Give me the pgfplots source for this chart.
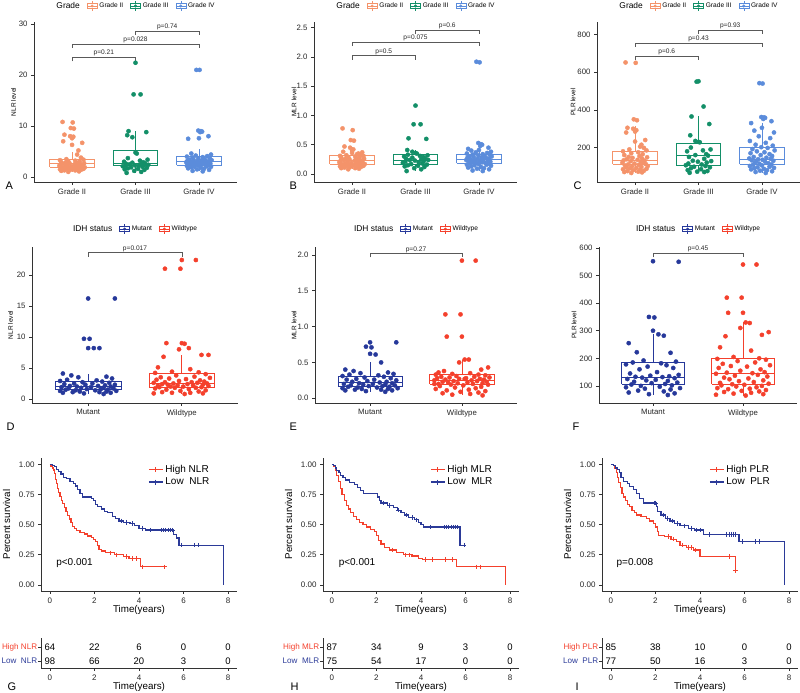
\documentclass[border=0pt]{standalone}
\usepackage{pgfplots}
\pgfplotsset{compat=1.18}
\usepackage{pgfplotstable}
\usepackage{fontspec}
\setmainfont{Liberation Sans}
\setsansfont{Liberation Sans}
\newcommand{\fs}[1]{\fontsize{#1bp}{#1bp}\selectfont}

\definecolor{gII}{HTML}{F4936A}
\definecolor{gIII}{HTML}{138F68}
\definecolor{gIV}{HTML}{5B8CDB}
\definecolor{mut}{HTML}{26389A}
\definecolor{wt}{HTML}{F4402C}
\definecolor{kmred}{HTML}{F4402C}
\definecolor{kmblue}{HTML}{2B3A98}

\tikzset{
  bracket/.style={line width=0.6bp, black!65},
  plab/.style={font=\fs{6.6}, anchor=south, inner sep=0.8bp, text=black!85},
}
\pgfplotsset{
  base/.style={scale only axis, clip=false,
    axis x line=bottom, axis y line=left,
    axis line style={-, line width=0.7bp, black!80},
    tick style={line width=0.7bp, black!80}, major tick length=3bp, tick align=outside,
    tick label style={font=\fs{7.8}, text=black!85},
    /pgf/number format/assume math mode=true,
    ylabel style={at={(rel axis cs:0,0.5)}, anchor=center, font=\fs{6.5}},
  },
  bxkey/.style={legend image code/.code={
    \draw[line width=0.6bp] (0bp,-2.6bp) rectangle (10bp,2.6bp);
    \draw[line width=0.6bp] (0bp,0bp) -- (10bp,0bp);
    \draw[line width=0.6bp] (5bp,2.6bp) -- (5bp,4.8bp);
    \draw[line width=0.6bp] (5bp,-2.6bp) -- (5bp,-4.8bp);
    \fill (5bp,0bp) circle (1.3bp);}},
  kmkey/.style={legend image code/.code={
    \draw[mark repeat=2,mark phase=2] plot coordinates {(0bp,0bp) (7bp,0bp) (14bp,0bp)};}},
  gpanel/.style={base, width=203bp, height=160bp, xmin=0.4, xmax=3.6,
    xtick={1,2,3}, xticklabels={Grade II,Grade III,Grade IV},
    legend style={at={(0.5,1.1)}, anchor=center, draw=none, fill=none, legend columns=-1,
      font=\fs{6.6}, inner sep=0pt, /tikz/every even column/.append style={column sep=5bp}},
    legend cell align=left},
  ipanel/.style={base, height=156bp, xmin=0.4, xmax=2.6,
    xtick={1,2}, xticklabels={Mutant,Wildtype},
    legend style={at={(0.5,1.115)}, anchor=center, draw=none, fill=none, legend columns=-1,
      font=\fs{6.6}, inner sep=0pt, /tikz/every even column/.append style={column sep=5bp}},
    legend cell align=left},
  kmpanel/.style={base, width=196bp, height=132.7bp, xmin=-0.4, xmax=8.4, ymin=-0.05, ymax=1.05,
    xtick={0,2,4,6,8}, ytick={0,0.25,0.5,0.75,1},
    yticklabel style={/pgf/number format/fixed, /pgf/number format/fixed zerofill, /pgf/number format/precision=2},
    tick label style={font=\fs{8}},
    ylabel={Percent survival}, ylabel style={font=\fs{9.8}, yshift=34.5bp},
    xlabel={Time(years)}, xlabel style={at={(rel axis cs:0.5,0)}, anchor=center, yshift=-19bp, font=\fs{9.8}},
    legend style={at={(0.546,0.965)}, anchor=north west, draw=none, fill=none, font=\fs{10},
      inner sep=0pt, row sep=0bp}, legend cell align=left},
  riskpanel/.style={base, width=196bp, height=30bp, xmin=-0.4, xmax=8.4, ymin=0.5, ymax=2.64,
    xtick={0,2,4,6,8}, ytick={1,2}, tick label style={font=\fs{8}},
    yticklabel style={font=\fs{8.1}, inner sep=0.6bp},
    xlabel={Time(years)}, xlabel style={at={(rel axis cs:0.5,0)}, anchor=center, yshift=-19bp, font=\fs{9.8}}},
  bxline/.style={line width=0.8bp, forget plot, unbounded coords=jump},
  pts/.style={only marks, mark=*, mark size=2.1bp, forget plot},
  kmline/.style={const plot, line width=1.2bp, forget plot},
  cens/.style={only marks, mark=+, mark size=2.3bp, line width=0.8bp, forget plot},
  risknum/.style={draw=none, nodes near coords, point meta=explicit symbolic, forget plot,
    every node near coord/.append style={anchor=center, font=\fs{9.5}, text=black}},
}

% ---------- jittered points: jit, NLR, MLR, PLR ----------
\pgfplotstableread{
jit nlr mlr plr
-0.15 10.8 0.78 652
0.01 10.7 0.75 650
-0.02 9.6 0.58 350
0.03 9.5 0.57 345
-0.12 8.3 0.47 305
-0.03 8.0 0.45 300
0.02 7.9 0.42 292
0.00 7.6 0.40 285
-0.14 7.0 0.38 280
0.16 6.7 0.37 240
0.00 6.3 0.36 232
0.10 5.2 0.35 215
0.08 4.4 0.34 205
0.14 3.8 0.33 198
-0.09 3.5 0.32 190
0.18 3.4 0.31 185
-0.19 3.3 0.31 180
0.05 3.2 0.30 175
-0.06 3.1 0.29 170
0.12 3.0 0.28 165
-0.17 2.9 0.28 160
0.07 2.8 0.27 155
-0.10 2.8 0.26 150
0.19 2.7 0.26 148
-0.04 2.7 0.25 145
0.11 2.6 0.24 142
-0.13 2.6 0.24 138
0.04 2.5 0.23 135
-0.18 2.5 0.23 132
0.15 2.4 0.22 130
-0.07 2.4 0.21 127
0.09 2.3 0.21 124
-0.20 2.2 0.20 120
0.13 2.2 0.20 118
-0.01 2.1 0.19 115
0.17 2.1 0.19 112
-0.11 2.0 0.18 110
0.06 2.0 0.18 108
-0.16 1.9 0.17 105
0.20 1.9 0.17 102
-0.05 1.8 0.16 100
0.10 1.8 0.16 97
-0.14 1.7 0.15 95
0.02 1.7 0.15 92
-0.08 1.6 0.14 90
0.18 1.6 0.14 87
-0.19 1.5 0.13 85
0.08 1.5 0.13 82
-0.03 1.4 0.12 80
0.14 1.4 0.12 77
-0.12 1.3 0.11 75
0.05 1.3 0.10 72
-0.17 1.2 0.10 70
0.11 1.1 0.09 68
-0.06 1.0 0.08 65
}\tabII

\pgfplotstableread{
jit nlr mlr plr
0.00 22.4 1.17 552
-0.03 16.2 0.85 550
0.08 16.2 0.85 418
-0.11 9.0 0.61 365
0.17 8.8 0.60 325
-0.13 8.2 0.41 265
-0.05 7.8 0.38 235
0.00 4.8 0.36 230
0.02 4.6 0.35 228
-0.12 3.7 0.33 200
0.19 3.4 0.32 190
0.07 3.2 0.31 185
-0.18 3.0 0.30 180
0.12 2.9 0.29 165
-0.05 2.8 0.28 160
0.15 2.7 0.27 157
-0.15 2.6 0.26 150
0.09 2.5 0.25 140
-0.09 2.5 0.24 130
0.20 2.4 0.24 128
-0.01 2.3 0.23 125
0.13 2.3 0.22 120
-0.16 2.2 0.21 115
0.05 2.2 0.20 110
-0.20 2.1 0.19 106
0.11 2.0 0.18 102
-0.07 1.9 0.17 98
0.18 1.8 0.16 95
-0.12 1.7 0.15 90
0.04 1.6 0.14 85
-0.17 1.5 0.13 80
0.14 1.4 0.12 75
-0.02 1.2 0.10 72
0.09 1.0 0.08 70
-0.14 0.8 0.05 66
}\tabIII

\pgfplotstableread{
jit nlr mlr plr
-0.04 21.0 1.92 542
0.01 21.0 1.91 540
-0.01 9.1 0.53 362
0.03 9.0 0.51 360
0.05 8.9 0.50 358
0.02 8.8 0.48 352
0.15 8.0 0.45 340
-0.17 7.5 0.43 330
0.00 7.6 0.41 305
-0.12 4.6 0.40 290
0.19 4.4 0.38 280
-0.05 4.2 0.37 260
0.13 4.1 0.36 250
-0.19 4.0 0.35 235
0.06 3.9 0.34 225
-0.10 3.8 0.33 215
0.17 3.7 0.33 210
-0.01 3.6 0.32 202
0.09 3.5 0.31 198
-0.15 3.4 0.30 192
0.20 3.3 0.30 185
-0.08 3.3 0.29 180
0.04 3.2 0.28 175
-0.18 3.2 0.28 170
0.12 3.1 0.27 165
-0.02 3.1 0.26 160
0.16 3.0 0.26 155
-0.13 3.0 0.25 150
0.07 2.9 0.25 146
-0.20 2.9 0.24 142
0.14 2.8 0.24 140
-0.06 2.8 0.23 138
0.01 2.7 0.22 135
-0.16 2.7 0.22 132
0.18 2.6 0.21 130
-0.09 2.6 0.21 127
0.05 2.5 0.20 124
-0.11 2.5 0.20 120
0.10 2.4 0.19 117
-0.04 2.4 0.19 114
0.15 2.3 0.18 110
-0.14 2.3 0.18 108
0.00 2.2 0.17 105
-0.19 2.2 0.16 102
0.12 2.1 0.16 98
-0.07 2.0 0.15 95
0.19 2.0 0.14 92
-0.12 1.9 0.13 90
0.03 1.8 0.12 87
-0.17 1.7 0.11 84
0.08 1.6 0.10 80
-0.03 1.5 0.09 77
0.16 1.4 0.08 74
-0.10 1.2 0.06 70
0.06 1.1 0.05 65
}\tabIV

\pgfplotstableread{
jit nlr mlr plr
0.00 16.2 0.78 552
0.19 16.2 0.78 550
-0.03 9.7 0.72 350
0.01 9.7 0.71 348
0.00 8.2 0.62 300
0.04 8.2 0.61 287
0.08 8.2 0.50 282
-0.18 4.1 0.40 255
-0.12 3.8 0.38 222
0.13 3.6 0.36 220
-0.07 3.5 0.35 192
0.17 3.3 0.34 188
-0.15 3.1 0.33 185
0.06 3.0 0.32 182
-0.20 2.9 0.31 178
0.10 2.8 0.30 175
-0.04 2.7 0.29 170
0.15 2.6 0.28 165
-0.10 2.5 0.27 160
0.03 2.5 0.26 150
-0.17 2.4 0.26 145
0.19 2.3 0.25 140
-0.02 2.3 0.24 137
0.12 2.2 0.23 135
-0.13 2.1 0.23 133
0.07 2.1 0.22 132
-0.08 2.0 0.21 130
0.16 2.0 0.21 128
-0.19 1.9 0.20 125
0.02 1.9 0.20 122
-0.05 1.8 0.19 120
0.11 1.8 0.19 118
-0.14 1.7 0.18 115
0.18 1.7 0.18 112
-0.01 1.6 0.17 110
0.09 1.6 0.17 107
-0.16 1.5 0.16 105
0.14 1.5 0.16 102
-0.09 1.4 0.15 100
0.05 1.4 0.15 97
-0.20 1.3 0.14 95
0.20 1.3 0.14 92
-0.06 1.2 0.13 90
0.13 1.2 0.13 87
-0.11 1.1 0.12 83
0.08 1.1 0.12 80
-0.18 1.0 0.11 76
0.16 1.0 0.11 73
-0.03 0.9 0.10 70
0.11 0.8 0.09 67
}\tabMut

\pgfplotstableread{
jit nlr mlr plr
0.00 22.4 1.92 540
0.10 22.4 1.92 540
-0.01 21.0 1.17 420
-0.12 21.0 1.17 420
-0.11 9.0 0.86 365
0.00 9.0 0.86 365
0.02 8.9 0.54 330
0.05 8.2 0.54 328
-0.02 8.0 0.50 310
0.19 7.1 0.43 295
0.14 7.1 0.40 285
-0.13 6.8 0.38 280
-0.17 5.1 0.36 240
0.06 4.8 0.35 228
-0.07 4.4 0.34 205
0.12 4.3 0.33 200
-0.19 4.2 0.33 198
0.17 4.0 0.32 195
-0.04 3.8 0.31 190
0.09 3.6 0.30 185
-0.15 3.5 0.30 180
0.20 3.4 0.29 175
-0.09 3.3 0.29 172
0.03 3.2 0.28 170
-0.18 3.1 0.28 165
0.13 3.0 0.27 160
-0.02 2.9 0.27 155
0.16 2.8 0.26 150
-0.12 2.7 0.26 148
0.07 2.7 0.25 146
-0.20 2.6 0.25 144
0.11 2.6 0.24 140
-0.06 2.5 0.24 137
0.18 2.5 0.23 134
-0.14 2.4 0.23 130
0.04 2.4 0.22 127
-0.10 2.3 0.22 124
0.15 2.3 0.21 120
-0.03 2.2 0.21 117
0.08 2.2 0.20 114
-0.17 2.1 0.20 111
0.19 2.1 0.19 108
-0.08 2.0 0.19 106
0.01 2.0 0.18 104
-0.16 1.9 0.17 102
0.14 1.9 0.16 100
-0.05 1.8 0.15 98
0.10 1.8 0.14 95
-0.19 1.7 0.13 92
0.05 1.6 0.12 90
-0.11 1.5 0.11 88
0.17 1.4 0.10 85
-0.01 1.3 0.09 82
0.12 1.2 0.08 80
-0.14 1.1 0.07 78
0.06 1.0 0.06 75
-0.07 1.0 0.05 72
0.15 0.9 0.04 70
-0.20 0.9 0.20 68
0.02 0.8 0.27 65
}\tabWt

\begin{document}
\begin{tikzpicture}[x=1bp,y=1bp]
\path[use as bounding box] (0bp,0bp) rectangle (800bp,693bp);

% ================= A =================
\begin{axis}[gpanel, at={(34bp,511bp)}, anchor=south west, ymin=-0.98, ymax=30.4, ytick={0,10,20,30},
  ylabel={NLR level}, ylabel style={yshift=20.5bp}]
\addplot[gII, bxline] coordinates {(0.65,1.9) (1.35,1.9) (1.35,3.4) (0.65,3.4) (0.65,1.9) (1,nan) (0.65,2.6) (1.35,2.6) (1,nan) (1,3.4) (1,5.0) (1,nan) (1,1.9) (1,1.0)};
\addplot[gIII, bxline] coordinates {(1.65,2.2) (2.35,2.2) (2.35,5.2) (1.65,5.2) (1.65,2.2) (2,nan) (1.65,2.7) (2.35,2.7) (2,nan) (2,5.2) (2,9.0) (2,nan) (2,2.2) (2,0.8)};
\addplot[gIV, bxline] coordinates {(2.65,2.35) (3.35,2.35) (3.35,4.0) (2.65,4.0) (2.65,2.35) (3,nan) (2.65,3.1) (3.35,3.1) (3,nan) (3,4.0) (3,5.5) (3,nan) (3,2.35) (3,1.1)};
\addplot[pts, gII] table[x expr=1+\thisrow{jit}, y=nlr] {\tabII};
\addplot[pts, gIII] table[x expr=2+\thisrow{jit}, y=nlr] {\tabIII};
\addplot[pts, gIV] table[x expr=3+\thisrow{jit}, y=nlr] {\tabIV};
\draw[bracket] (axis cs:1,22.7) -- (axis cs:1,23.5) -- (axis cs:2,23.5) -- (axis cs:2,22.7);
\node[plab] at (axis cs:1.5,23.5) {p=0.21};
\draw[bracket] (axis cs:1,25.3) -- (axis cs:1,26.1) -- (axis cs:3,26.1) -- (axis cs:3,25.3);
\node[plab] at (axis cs:2,26.1) {p=0.028};
\draw[bracket] (axis cs:2,27.8) -- (axis cs:2,28.6) -- (axis cs:3,28.6) -- (axis cs:3,27.8);
\node[plab] at (axis cs:2.5,28.6) {p=0.74};
\addlegendimage{empty legend}\addlegendentry{\fs{8.4}Grade}
\addlegendimage{gII, bxkey}\addlegendentry{Grade II}
\addlegendimage{gIII, bxkey}\addlegendentry{Grade III}
\addlegendimage{gIV, bxkey}\addlegendentry{Grade IV}
\end{axis}

% ================= B =================
\begin{axis}[gpanel, at={(314bp,511bp)}, anchor=south west, ymin=-0.137, ymax=2.6, ytick={0,0.5,1,1.5,2,2.5},
  yticklabel style={/pgf/number format/fixed, /pgf/number format/fixed zerofill, /pgf/number format/precision=1},
  ylabel={MLR level}, ylabel style={yshift=20bp}]
\addplot[gII, bxline] coordinates {(0.65,0.17) (1.35,0.17) (1.35,0.31) (0.65,0.31) (0.65,0.17) (1,nan) (0.65,0.23) (1.35,0.23) (1,nan) (1,0.31) (1,0.47) (1,nan) (1,0.17) (1,0.08)};
\addplot[gIII, bxline] coordinates {(1.65,0.17) (2.35,0.17) (2.35,0.33) (1.65,0.33) (1.65,0.17) (2,nan) (1.65,0.24) (2.35,0.24) (2,nan) (2,0.33) (2,0.41) (2,nan) (2,0.17) (2,0.05)};
\addplot[gIV, bxline] coordinates {(2.65,0.18) (3.35,0.18) (3.35,0.33) (2.65,0.33) (2.65,0.18) (3,nan) (2.65,0.25) (3.35,0.25) (3,nan) (3,0.33) (3,0.53) (3,nan) (3,0.18) (3,0.05)};
\addplot[pts, gII] table[x expr=1+\thisrow{jit}, y=mlr] {\tabII};
\addplot[pts, gIII] table[x expr=2+\thisrow{jit}, y=mlr] {\tabIII};
\addplot[pts, gIV] table[x expr=3+\thisrow{jit}, y=mlr] {\tabIV};
\draw[bracket] (axis cs:1,1.957) -- (axis cs:1,2.025) -- (axis cs:2,2.025) -- (axis cs:2,1.957);
\node[plab] at (axis cs:1.5,2.025) {p=0.5};
\draw[bracket] (axis cs:1,2.186) -- (axis cs:1,2.254) -- (axis cs:3,2.254) -- (axis cs:3,2.186);
\node[plab] at (axis cs:2,2.254) {p=0.075};
\draw[bracket] (axis cs:2,2.392) -- (axis cs:2,2.46) -- (axis cs:3,2.46) -- (axis cs:3,2.392);
\node[plab] at (axis cs:2.5,2.46) {p=0.6};
\addlegendimage{empty legend}\addlegendentry{\fs{8.4}Grade}
\addlegendimage{gII, bxkey}\addlegendentry{Grade II}
\addlegendimage{gIII, bxkey}\addlegendentry{Grade III}
\addlegendimage{gIV, bxkey}\addlegendentry{Grade IV}
\end{axis}

% ================= C =================
\begin{axis}[gpanel, at={(597bp,511bp)}, anchor=south west, ymin=17, ymax=867, ytick={200,400,600,800},
  ylabel={PLR level}, ylabel style={yshift=24bp}]
\addplot[gII, bxline] coordinates {(0.65,111) (1.35,111) (1.35,182) (0.65,182) (0.65,111) (1,nan) (0.65,134) (1.35,134) (1,nan) (1,182) (1,315) (1,nan) (1,111) (1,65)};
\addplot[gIII, bxline] coordinates {(1.65,107) (2.35,107) (2.35,221) (1.65,221) (1.65,107) (2,nan) (1.65,156) (2.35,156) (2,nan) (2,221) (2,370) (2,nan) (2,107) (2,66)};
\addplot[gIV, bxline] coordinates {(2.65,111) (3.35,111) (3.35,200) (2.65,200) (2.65,111) (3,nan) (2.65,138) (3.35,138) (3,nan) (3,200) (3,328) (3,nan) (3,111) (3,65)};
\addplot[pts, gII] table[x expr=1+\thisrow{jit}, y=plr] {\tabII};
\addplot[pts, gIII] table[x expr=2+\thisrow{jit}, y=plr] {\tabIII};
\addplot[pts, gIV] table[x expr=3+\thisrow{jit}, y=plr] {\tabIV};
\draw[bracket] (axis cs:1,664) -- (axis cs:1,685) -- (axis cs:2,685) -- (axis cs:2,664);
\node[plab] at (axis cs:1.5,685) {p=0.6};
\draw[bracket] (axis cs:1,735) -- (axis cs:1,756) -- (axis cs:3,756) -- (axis cs:3,735);
\node[plab] at (axis cs:2,756) {p=0.43};
\draw[bracket] (axis cs:2,803) -- (axis cs:2,824) -- (axis cs:3,824) -- (axis cs:3,803);
\node[plab] at (axis cs:2.5,824) {p=0.93};
\addlegendimage{empty legend}\addlegendentry{\fs{8.4}Grade}
\addlegendimage{gII, bxkey}\addlegendentry{Grade II}
\addlegendimage{gIII, bxkey}\addlegendentry{Grade III}
\addlegendimage{gIV, bxkey}\addlegendentry{Grade IV}
\end{axis}

% ================= D =================
\begin{axis}[ipanel, width=206bp, at={(32bp,290bp)}, anchor=south west, ymin=-0.65, ymax=24.5, ytick={0,5,10,15,20},
  ylabel={NLR level}, ylabel style={yshift=21.5bp}]
\addplot[mut, bxline] coordinates {(0.65,1.5) (1.35,1.5) (1.35,2.85) (0.65,2.85) (0.65,1.5) (1,nan) (0.65,2.04) (1.35,2.04) (1,nan) (1,2.85) (1,4.1) (1,nan) (1,1.5) (1,0.8)};
\addplot[wt, bxline] coordinates {(1.65,1.93) (2.35,1.93) (2.35,4.2) (1.65,4.2) (1.65,1.93) (2,nan) (1.65,2.5) (2.35,2.5) (2,nan) (2,4.2) (2,7.1) (2,nan) (2,1.93) (2,0.8)};
\addplot[pts, mut] table[x expr=1+1.5*\thisrow{jit}, y=nlr] {\tabMut};
\addplot[pts, wt] table[x expr=2+1.5*\thisrow{jit}, y=nlr] {\tabWt};
\draw[bracket] (axis cs:1,22.96) -- (axis cs:1,23.6) -- (axis cs:2,23.6) -- (axis cs:2,22.96);
\node[plab] at (axis cs:1.5,23.6) {p=0.017};
\addlegendimage{empty legend}\addlegendentry{\fs{8.4}IDH status}
\addlegendimage{mut, bxkey}\addlegendentry{Mutant}
\addlegendimage{wt, bxkey}\addlegendentry{Wildtype}
\end{axis}

% ================= E =================
\begin{axis}[ipanel, width=202bp, at={(315bp,290bp)}, anchor=south west, ymin=-0.066, ymax=2.11, ytick={0,0.5,1,1.5,2},
  yticklabel style={/pgf/number format/fixed, /pgf/number format/fixed zerofill, /pgf/number format/precision=1},
  ylabel={MLR level}, ylabel style={yshift=21bp}]
\addplot[mut, bxline] coordinates {(0.65,0.163) (1.35,0.163) (1.35,0.31) (0.65,0.31) (0.65,0.163) (1,nan) (0.65,0.22) (1.35,0.22) (1,nan) (1,0.31) (1,0.50) (1,nan) (1,0.163) (1,0.09)};
\addplot[wt, bxline] coordinates {(1.65,0.2) (2.35,0.2) (2.35,0.335) (1.65,0.335) (1.65,0.2) (2,nan) (1.65,0.256) (2.35,0.256) (2,nan) (2,0.335) (2,0.54) (2,nan) (2,0.2) (2,0.04)};
\addplot[pts, mut] table[x expr=1+1.5*\thisrow{jit}, y=mlr] {\tabMut};
\addplot[pts, wt] table[x expr=2+1.5*\thisrow{jit}, y=mlr] {\tabWt};
\draw[bracket] (axis cs:1,1.964) -- (axis cs:1,2.02) -- (axis cs:2,2.02) -- (axis cs:2,1.964);
\node[plab] at (axis cs:1.5,2.02) {p=0.27};
\addlegendimage{empty legend}\addlegendentry{\fs{8.4}IDH status}
\addlegendimage{mut, bxkey}\addlegendentry{Mutant}
\addlegendimage{wt, bxkey}\addlegendentry{Wildtype}
\end{axis}

% ================= F =================
\begin{axis}[ipanel, width=198bp, at={(599bp,290bp)}, anchor=south west, ymin=38, ymax=603.6, ytick={100,200,300,400,500,600},
  ylabel={PLR level}, ylabel style={yshift=25bp}]
\addplot[mut, bxline] coordinates {(0.65,107) (1.35,107) (1.35,185) (0.65,185) (0.65,107) (1,nan) (0.65,132) (1.35,132) (1,nan) (1,185) (1,287) (1,nan) (1,107) (1,67)};
\addplot[wt, bxline] coordinates {(1.65,107) (2.35,107) (2.35,198) (1.65,198) (1.65,107) (2,nan) (1.65,146) (2.35,146) (2,nan) (2,198) (2,330) (2,nan) (2,107) (2,65)};
\addplot[pts, mut] table[x expr=1+1.5*\thisrow{jit}, y=plr] {\tabMut};
\addplot[pts, wt] table[x expr=2+1.5*\thisrow{jit}, y=plr] {\tabWt};
\draw[bracket] (axis cs:1,566) -- (axis cs:1,581) -- (axis cs:2,581) -- (axis cs:2,566);
\node[plab] at (axis cs:1.5,581) {p=0.45};
\addlegendimage{empty legend}\addlegendentry{\fs{8.4}IDH status}
\addlegendimage{mut, bxkey}\addlegendentry{Mutant}
\addlegendimage{wt, bxkey}\addlegendentry{Wildtype}
\end{axis}

% ================= G =================
\begin{axis}[kmpanel, at={(41bp,102bp)}, anchor=south west]
\addplot[kmline, kmred] coordinates {(0,1) (0.05,0.984) (0.1,0.969) (0.15,0.953) (0.2,0.922) (0.25,0.875) (0.3,0.844) (0.35,0.797) (0.4,0.766) (0.45,0.734) (0.52,0.703) (0.58,0.672) (0.65,0.641) (0.72,0.609) (0.8,0.578) (0.88,0.547) (0.95,0.516) (1.0,0.484) (1.1,0.469) (1.2,0.453) (1.35,0.438) (1.55,0.422) (1.7,0.406) (1.85,0.391) (1.95,0.375) (2.05,0.359) (2.12,0.328) (2.2,0.297) (2.3,0.281) (2.5,0.266) (2.9,0.250) (3.3,0.234) (3.55,0.219) (4.05,0.150) (5.2,0.150)};
\addplot[cens, kmred] coordinates {(2.7,0.266) (3.0,0.25) (3.45,0.234) (3.7,0.219) (3.9,0.219) (4.15,0.15) (5.15,0.15)};
\addplot[kmline, kmblue] coordinates {(0,1) (0.1,0.99) (0.2,0.98) (0.3,0.96) (0.4,0.94) (0.5,0.92) (0.6,0.89) (0.75,0.88) (0.9,0.86) (1.05,0.84) (1.15,0.82) (1.25,0.79) (1.35,0.76) (1.45,0.73) (1.85,0.72) (1.95,0.70) (2.05,0.67) (2.15,0.65) (2.3,0.63) (2.45,0.61) (2.6,0.60) (2.8,0.57) (2.95,0.55) (3.1,0.53) (3.3,0.52) (3.6,0.51) (3.8,0.49) (4.0,0.47) (4.3,0.455) (5.55,0.42) (5.7,0.39) (5.8,0.33) (7.8,0)};
\addplot[cens, kmblue] coordinates {(3.2,0.53) (3.45,0.52) (3.7,0.51) (4.15,0.47) (4.5,0.455) (5.0,0.455) (5.1,0.455) (5.2,0.455) (5.3,0.455) (5.4,0.455) (5.5,0.455) (5.9,0.33) (6.5,0.33) (6.65,0.33)};
\node[anchor=west, font=\fs{10}] at (axis cs:0.13,0.18) {p<0.001};
\addlegendimage{kmred, line width=1.2bp, mark=+, mark size=2.5bp, kmkey}\addlegendentry{High NLR}
\addlegendimage{kmblue, line width=1.2bp, mark=+, mark size=2.5bp, kmkey}\addlegendentry{Low\ \ NLR}
\end{axis}

% ================= H =================
\begin{axis}[kmpanel, at={(323bp,102bp)}, anchor=south west]
\addplot[kmline, kmred] coordinates {(0,1) (0.08,0.98) (0.15,0.95) (0.22,0.91) (0.3,0.86) (0.38,0.80) (0.45,0.75) (0.55,0.70) (0.65,0.66) (0.75,0.63) (0.85,0.60) (0.98,0.57) (1.1,0.54) (1.25,0.52) (1.4,0.50) (1.55,0.48) (1.75,0.46) (1.9,0.44) (2.0,0.41) (2.1,0.37) (2.2,0.34) (2.35,0.31) (2.6,0.29) (2.9,0.27) (3.2,0.25) (3.6,0.24) (3.9,0.22) (4.05,0.21) (5.6,0.15) (7.8,0)};
\addplot[cens, kmred] coordinates {(2.7,0.29) (3.3,0.25) (3.5,0.25) (4.2,0.21) (4.5,0.21) (5.1,0.21) (5.4,0.21) (6.5,0.15) (6.65,0.15)};
\addplot[kmline, kmblue] coordinates {(0,1) (0.08,0.99) (0.15,0.97) (0.22,0.95) (0.32,0.93) (0.4,0.91) (0.5,0.89) (0.6,0.87) (0.8,0.85) (1.0,0.83) (1.15,0.81) (1.3,0.78) (1.43,0.76) (2.05,0.73) (2.12,0.70) (2.2,0.68) (2.5,0.66) (2.75,0.64) (2.95,0.62) (3.1,0.60) (3.25,0.58) (3.45,0.56) (3.7,0.54) (3.9,0.52) (4.0,0.50) (4.1,0.48) (5.75,0.33) (5.93,0.33)};
\addplot[cens, kmblue] coordinates {(2.3,0.68) (2.6,0.66) (3.0,0.62) (3.35,0.58) (3.6,0.56) (3.8,0.54) (4.4,0.48) (5.05,0.48) (5.15,0.48) (5.25,0.48) (5.35,0.48) (5.45,0.48) (5.55,0.48) (5.65,0.48) (5.93,0.33)};
\node[anchor=west, font=\fs{10}] at (axis cs:0.15,0.18) {p<0.001};
\addlegendimage{kmred, line width=1.2bp, mark=+, mark size=2.5bp, kmkey}\addlegendentry{High MLR}
\addlegendimage{kmblue, line width=1.2bp, mark=+, mark size=2.5bp, kmkey}\addlegendentry{Low\ \ MLR}
\end{axis}

% ================= I =================
\begin{axis}[kmpanel, at={(602bp,102bp)}, anchor=south west]
\addplot[kmline, kmred] coordinates {(0,1) (0.1,0.99) (0.18,0.965) (0.25,0.93) (0.3,0.89) (0.35,0.85) (0.42,0.81) (0.5,0.76) (0.55,0.73) (0.65,0.70) (0.75,0.67) (0.85,0.65) (0.95,0.62) (1.05,0.60) (1.15,0.58) (1.35,0.57) (1.6,0.55) (1.75,0.53) (1.9,0.51) (2.0,0.48) (2.1,0.44) (2.15,0.41) (2.4,0.40) (2.7,0.38) (2.95,0.36) (3.1,0.33) (3.4,0.31) (3.7,0.29) (4.0,0.235) (5.6,0.12)};
\addplot[cens, kmred] coordinates {(2.6,0.40) (2.8,0.38) (3.2,0.33) (3.5,0.31) (3.6,0.31) (3.8,0.29) (5.3,0.235) (5.6,0.12)};
\addplot[kmline, kmblue] coordinates {(0,1) (0.12,0.99) (0.2,0.97) (0.3,0.96) (0.38,0.93) (0.45,0.89) (0.55,0.86) (0.75,0.84) (0.85,0.815) (1.0,0.79) (1.15,0.76) (1.3,0.72) (1.45,0.68) (2.03,0.65) (2.08,0.61) (2.25,0.58) (2.45,0.55) (2.65,0.53) (2.85,0.51) (3.1,0.49) (3.5,0.47) (3.75,0.455) (4.15,0.42) (5.75,0.36) (7.8,0)};
\addplot[cens, kmblue] coordinates {(1.95,0.68) (2.0,0.68) (2.35,0.58) (2.55,0.55) (2.75,0.53) (3.0,0.51) (3.3,0.49) (3.6,0.47) (3.85,0.455) (4.0,0.455) (4.4,0.42) (5.2,0.42) (5.3,0.42) (5.4,0.42) (5.5,0.42) (5.6,0.42) (5.9,0.36) (6.5,0.36) (6.65,0.36)};
\node[anchor=west, font=\fs{10}] at (axis cs:0.1,0.18) {p=0.008};
\addlegendimage{kmred, line width=1.2bp, mark=+, mark size=2.5bp, kmkey}\addlegendentry{High PLR}
\addlegendimage{kmblue, line width=1.2bp, mark=+, mark size=2.5bp, kmkey}\addlegendentry{Low\ \ PLR}
\end{axis}

% ================= risk tables =================
\begin{axis}[riskpanel, at={(41bp,25bp)}, anchor=south west, yticklabels={\textcolor{kmblue}{Low\ \ NLR},\textcolor{kmred}{High NLR}}]
\addplot[risknum] coordinates {(0,2)[64] (2,2)[22] (4,2)[6] (6,2)[0] (8,2)[0] (0,1)[98] (2,1)[66] (4,1)[20] (6,1)[3] (8,1)[0]};
\end{axis}
\begin{axis}[riskpanel, at={(323bp,25bp)}, anchor=south west, yticklabels={\textcolor{kmblue}{Low\ \ MLR},\textcolor{kmred}{High MLR}}]
\addplot[risknum] coordinates {(0,2)[87] (2,2)[34] (4,2)[9] (6,2)[3] (8,2)[0] (0,1)[75] (2,1)[54] (4,1)[17] (6,1)[0] (8,1)[0]};
\end{axis}
\begin{axis}[riskpanel, at={(602bp,25bp)}, anchor=south west, yticklabels={\textcolor{kmblue}{Low\ \ PLR},\textcolor{kmred}{High PLR}}]
\addplot[risknum] coordinates {(0,2)[85] (2,2)[38] (4,2)[10] (6,2)[0] (8,2)[0] (0,1)[77] (2,1)[50] (4,1)[16] (6,1)[3] (8,1)[0]};
\end{axis}

% ================= panel letters =================
\node[anchor=base west, font=\fs{11}] at (2bp,503bp) {A};
\node[anchor=base west, font=\fs{11}] at (286bp,503bp) {B};
\node[anchor=base west, font=\fs{11}] at (570bp,503bp) {C};
\node[anchor=base west, font=\fs{11}] at (3bp,262bp) {D};
\node[anchor=base west, font=\fs{11}] at (286bp,262bp) {E};
\node[anchor=base west, font=\fs{11}] at (569bp,262bp) {F};
\node[anchor=base west, font=\fs{11}] at (4bp,3bp) {G};
\node[anchor=base west, font=\fs{11}] at (287bp,3bp) {H};
\node[anchor=base west, font=\fs{11}] at (572bp,3bp) {I};
\end{tikzpicture}
\end{document}
